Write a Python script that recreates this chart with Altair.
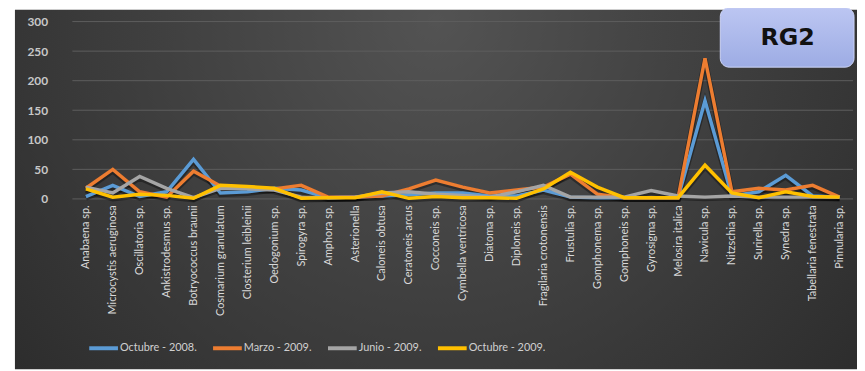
import altair as alt
import pandas as pd

species = [
    "Anabaena sp.", "Microcystis aeruginosa", "Oscillatoria sp.", "Ankistrodesmus sp.",
    "Botryococcus braunii", "Cosmarium granulatum", "Closterium leibleinii", "Oedogonium sp.",
    "Spirogyra sp.", "Amphora sp.", "Asterionella", "Caloneis obtusa", "Ceratoneis arcus",
    "Cocconeis sp.", "Cymbella ventricosa", "Diatoma sp.", "Diploneis sp.",
    "Fragilaria crotonensis", "Frustulia sp.", "Gomphonema sp.", "Gomphoneis sp.",
    "Gyrosigma sp.", "Melosira italica", "Navicula sp.", "Nitzschia sp.", "Surirella sp.",
    "Synedra sp.", "Tabellaria fenestrata", "Pinnularia sp.",
]
series_names = ["Octubre - 2008.", "Marzo - 2009.", "Junio - 2009.", "Octubre - 2009."]
oct08 = [4, 23, 4, 12, 67, 10, 12, 18, 15, 2, 3, 5, 7, 10, 10, 5, 5, 15, 3, 2, 2, 2, 2, 166, 5, 12, 40, 5, 3]
mar09 = [18, 50, 12, 3, 47, 22, 20, 17, 23, 3, 3, 5, 17, 32, 20, 10, 15, 20, 42, 8, 2, 2, 2, 238, 12, 18, 15, 23, 3]
jun09 = [20, 10, 38, 18, 2, 18, 17, 15, 3, 2, 3, 10, 12, 8, 6, 3, 12, 23, 3, 3, 3, 14, 5, 3, 5, 3, 3, 3, 3]
oct09 = [17, 3, 8, 6, 1, 23, 21, 18, 1, 2, 2, 12, 1, 4, 2, 2, 1, 17, 45, 20, 2, 2, 2, 57, 10, 2, 12, 4, 3]
colors = ["#5b9bd5", "#ed7d31", "#a5a5a5", "#ffc000"]
y_ticks = [0, 50, 100, 150, 200, 250, 300]
badge = ["RG2"]

rows = []
for name, vals in zip(series_names, [oct08, mar09, jun09, oct09]):
    for sp, v in zip(species, vals):
        rows.append({"Especie": sp, "Serie": name, "Valor": v})
df = pd.DataFrame(rows)

W, H = 788, 179
yscale = alt.Scale(domain=[0, 300], nice=False, zero=True)
xscale = alt.Scale(type="point", padding=0.5)
one = pd.DataFrame({"label": badge})

x_axis = alt.Axis(
    title=None, labelAngle=-90, labelAlign="right", labelBaseline="middle",
    domain=False, ticks=False, grid=False, labelPadding=6, labelColor="#d9d9d9",
    labelFont="Lato", labelFontSize=11, labelLimit=200, zindex=1,
)
y_axis = alt.Axis(
    title=None, values=y_ticks, grid=False, domain=False, ticks=False,
    labelPadding=25, labelColor="#c8c8c8", labelFont="Lato",
    labelFontSize=12, labelFontWeight="bold", zindex=1,
)

bg = alt.Chart(one).mark_rect(
    fill={
        "gradient": "radial",
        "x1": 0.5, "y1": 0.3, "r1": 0,
        "x2": 0.5, "y2": 0.3, "r2": 0.75,
        "stops": [
            {"offset": 0, "color": "#535353"},
            {"offset": 1, "color": "#272727"},
        ],
    }
).encode(x=alt.value(-58), x2=alt.value(792), y=alt.value(-12), y2=alt.value(351))

grid = alt.Chart(pd.DataFrame({"t": y_ticks})).mark_rule(
    color="#5e5e5e", strokeWidth=1
).encode(
    y=alt.Y("t:Q", scale=yscale, axis=y_axis),
    x=alt.value(0), x2=alt.value(W),
)

shadow = alt.Chart(df).mark_line(
    strokeWidth=5.5, color="black", opacity=0.35, yOffset=1.5
).encode(
    x=alt.X("Especie:N", sort=species, scale=xscale, axis=x_axis),
    y=alt.Y("Valor:Q", scale=yscale, axis=y_axis),
    detail="Serie:N",
)

lines = alt.Chart(df).mark_line(strokeWidth=3.5).encode(
    x=alt.X("Especie:N", sort=species, scale=xscale, axis=x_axis),
    y=alt.Y("Valor:Q", scale=yscale, axis=y_axis),
    color=alt.Color(
        "Serie:N",
        scale=alt.Scale(domain=series_names, range=colors),
        legend=alt.Legend(
            orient="none", legendX=15, legendY=313, direction="horizontal",
            title=None, symbolType="stroke", symbolSize=841, symbolStrokeWidth=4,
            labelColor="#d0d0d0", labelFont="Lato", labelFontSize=11,
            columnPadding=8, labelOffset=0, padding=0,
        ),
    ),
)

box = alt.Chart(one).mark_rect(
    cornerRadius=9,
    fill={
        "gradient": "linear", "x1": 0, "y1": 0, "x2": 0, "y2": 1,
        "stops": [
            {"offset": 0, "color": "#bcc6f2"},
            {"offset": 1, "color": "#9dace4"},
        ],
    },
    stroke="#cdd5f6", strokeWidth=1,
).encode(x=alt.value(654), x2=alt.value(789), y=alt.value(-14), y2=alt.value(46))

box_text = alt.Chart(one).mark_text(
    font="DejaVu Sans", fontWeight="bold", fontSize=24, color="#111111",
    align="center", baseline="middle",
).encode(text="label:N", x=alt.value(722), y=alt.value(17))

chart = alt.layer(bg, grid, shadow, lines, box, box_text).properties(
    width=W, height=H,
    autosize="none",
    padding={"left": 65, "top": 12, "right": 4, "bottom": 172},
    background="white",
).configure_view(stroke=None)

chart.save("out.html", embed_options={"renderer": "svg", "actions": False})
